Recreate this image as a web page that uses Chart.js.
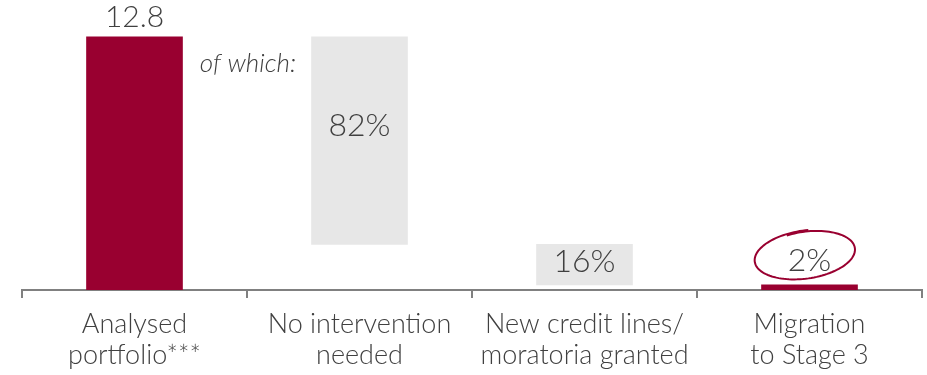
<!DOCTYPE html>
<html>
<head>
<meta charset="utf-8">
<script src="https://cdn.jsdelivr.net/npm/chart.js@4"></script>
<style>
  html, body { margin: 0; padding: 0; background: #fff; }
  #wrap { width: 927px; height: 375px; }
</style>
</head>
<body>
<div id="wrap"><canvas id="chart"></canvas></div>
<script>
const categories = [
  ['Analysed', 'portfolio***'],
  ['No intervention', 'needed'],
  ['New credit lines/', 'moratoria granted'],
  ['Migration', 'to Stage 3']
]
const total = 12.8
const shares = [82, 16, 2]            // % of the analysed portfolio
const valueLabels = ['12.8', '82%', '16%', '2%']

const RED = '#990030'
const GREY = '#e7e7e7'
const TEXT = '#404040'
const FONT = 'Lato, "Open Sans", sans-serif'

// waterfall: total bar, then each share stacked downward
const bars = [[0, total]]
let level = total
shares.forEach(s => {
  const bottom = level - total * s / 100
  bars.push([Math.max(bottom, 0), level])
  level = bottom
})
const colors = [RED, GREY, GREY, RED]

// label placement per bar: 'above' (px offset) or 'inside' (fraction from top)
const labelPos = [
  { mode: 'above', off: 19, size: 30 },
  { mode: 'inside', f: 0.43, size: 32 },
  { mode: 'inside', f: 0.42, size: 32 },
  { mode: 'above', off: 24, size: 32 }
]

const labelsPlugin = {
  id: 'labels',
  afterDatasetsDraw(chart) {
    const ctx = chart.ctx
    const meta = chart.getDatasetMeta(0)
    const y = chart.scales.y
    ctx.save()
    ctx.fillStyle = TEXT
    ctx.textAlign = 'center'
    ctx.textBaseline = 'middle'
    meta.data.forEach((bar, i) => {
      const t = y.getPixelForValue(bars[i][1])
      const b = y.getPixelForValue(bars[i][0])
      let ty
      if (labelPos[i].mode === 'above') ty = t - labelPos[i].off
      else ty = t + (b - t) * labelPos[i].f
      ctx.font = '300 ' + labelPos[i].size + 'px ' + FONT
      ctx.fillText(valueLabels[i], bar.x, ty)
    })

    // "of which:" note between first two bars
    const x = chart.scales.x
    ctx.font = 'italic 300 26px ' + FONT
    ctx.fillText('of which:', (x.getPixelForValue(0) + x.getPixelForValue(1)) / 2 + 1, y.getPixelForValue(total) + 27)

    // hand-drawn ring round the last value
    const last = meta.data[3]
    const cx = last.x - 4
    const cy = y.getPixelForValue(bars[3][1]) - 30
    ctx.strokeStyle = RED
    ctx.lineWidth = 2
    ctx.beginPath()
    const rot = -0.14
    const steps = 120
    for (let k = 0; k <= steps; k++) {
      const a = -1.9 + (2 * Math.PI + 0.45) * k / steps
      const grow = 1 + 0.06 * k / steps
      const ex = 49 * grow * Math.cos(a)
      const ey = 23 * grow * Math.sin(a)
      const px = cx + ex * Math.cos(rot) - ey * Math.sin(rot)
      const py = cy + ex * Math.sin(rot) + ey * Math.cos(rot)
      if (k === 0) ctx.moveTo(px, py)
      else ctx.lineTo(px, py)
    }
    ctx.stroke()
    ctx.restore()
  }
}

new Chart(document.getElementById('chart'), {
  type: 'bar',
  data: {
    labels: categories,
    datasets: [{
      data: bars,
      backgroundColor: colors,
      borderWidth: 0,
      borderSkipped: false,
      barThickness: 96
    }]
  },
  options: {
    responsive: true,
    maintainAspectRatio: false,
    animation: false,
    layout: {
      padding: { left: 22, right: 5, top: 13, bottom: -7 }
    },
    scales: {
      x: {
        grid: {
          offset: true,
          drawOnChartArea: false,
          drawTicks: true,
          tickLength: 8,
          color: '#808080',
          lineWidth: 2
        },
        border: { color: '#808080', width: 2 },
        ticks: {
          color: TEXT,
          padding: 11,
          maxRotation: 0,
          autoSkip: false,
          font: { family: FONT, size: 27, weight: 300, lineHeight: 1.15 }
        }
      },
      y: {
        display: false,
        min: 0,
        max: 14
      }
    },
    plugins: {
      legend: { display: false },
      tooltip: { enabled: false }
    }
  },
  plugins: [labelsPlugin]
})
</script>
</body>
</html>
